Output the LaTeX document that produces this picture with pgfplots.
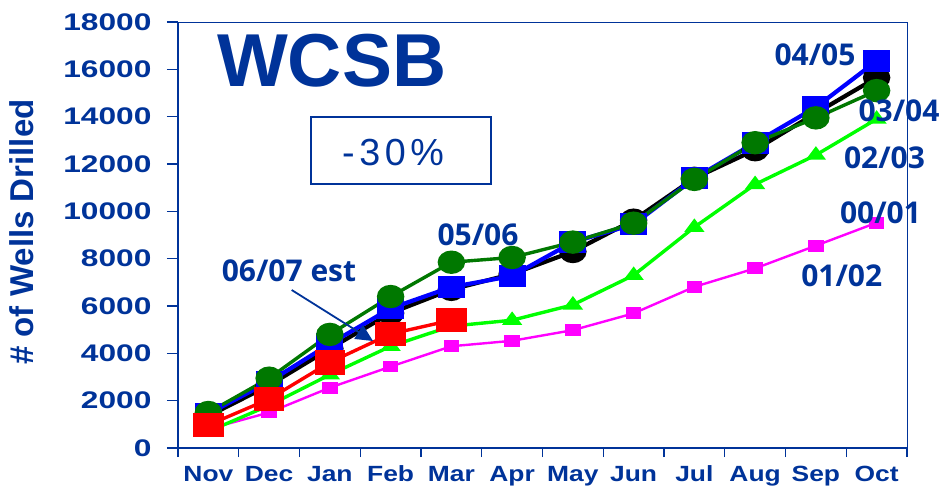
\documentclass[border=0pt]{standalone}
\usepackage{pgfplots}
\pgfplotsset{compat=1.18}
\usepackage{fontspec}
\setmainfont{Liberation Sans}
\newfontfamily\osans{Open Sans}
\usetikzlibrary{arrows.meta}
\definecolor{dblue}{RGB}{0,51,153}
\definecolor{dgreen}{RGB}{0,120,0}
\definecolor{lgreen}{RGB}{0,255,0}
\definecolor{mag}{RGB}{255,0,255}
\definecolor{pblue}{RGB}{0,0,255}
\definecolor{pred}{RGB}{255,0,0}
\begin{document}
\begin{tikzpicture}
\path[use as bounding box] (0,0) rectangle (941pt,-488pt);
\begin{axis}[
  at={(178pt,-448pt)}, anchor=south west,
  scale only axis, width=729pt, height=426pt,
  xmin=-0.5, xmax=11.5, ymin=0, ymax=18000,
  axis x line*=bottom, axis y line*=left,
  axis line style={dblue, line width=1.6pt},
  tick align=outside,
  xtick={0,...,11},
  minor xtick={-0.5,0.5,...,11.5},
  every major x tick/.style={draw=none},
  minor tick length=9pt,
  major tick length=11pt,
  every tick/.style={dblue, line width=1.2pt},
  ytick={0,2000,...,18000},
  scaled y ticks=false,
  /pgf/number format/assume math mode=true,
  /pgf/number format/1000 sep={},
  yticklabel={\scalebox{1.32}[1]{\pgfmathprintnumber[fixed]{\tick}}},
  yticklabel style={font=\fontsize{24}{24}\selectfont\bfseries, text=dblue, xshift=-12pt},
  xticklabel={\scalebox{1.2}[1]{\pgfmathparse{int(\tick)}\ifcase\pgfmathresult Nov\or Dec\or Jan\or Feb\or Mar\or Apr\or May\or Jun\or Jul\or Aug\or Sep\or Oct\fi}},
  xticklabel style={font=\fontsize{22}{22}\selectfont\bfseries, text=dblue, anchor=north, text height=16pt, text depth=0pt, inner sep=0pt, yshift=-6pt},
  clip=false,
]
\addplot[mag, line width=2.4pt, mark=square*, mark size=4.7pt, mark options={xscale=1.4, solid}]
  coordinates {(0,800)(1,1500)(2,2550)(3,3440)(4,4300)(5,4530)(6,4980)(7,5690)(8,6810)(9,7590)(10,8550)(11,9520)};
\addplot[lgreen, line width=3.4pt, mark=triangle*, mark size=6pt, mark options={xscale=1.3, solid}]
  coordinates {(0,700)(1,1800)(2,3100)(3,4300)(4,5150)(5,5400)(6,6050)(7,7300)(8,9330)(9,11140)(10,12380)(11,13900)};
\addplot[black, line width=4.2pt, mark=*, mark size=9.5pt, mark options={xscale=1.22, solid}]
  coordinates {(0,1350)(1,2650)(2,4200)(3,5700)(4,6700)(5,7350)(6,8300)(7,9630)(8,11400)(9,12600)(10,14150)(11,15650)};
\addplot[pblue, line width=4.2pt, mark=square*, mark size=9pt, mark options={xscale=1.26, solid}]
  coordinates {(0,1450)(1,2800)(2,4400)(3,5900)(4,6800)(5,7270)(6,8700)(7,9450)(8,11400)(9,12900)(10,14400)(11,16350)};
\addplot[dgreen, line width=3.4pt, mark=*, mark size=10pt, mark options={xscale=1.2, solid}]
  coordinates {(0,1500)(1,2950)(2,4800)(3,6400)(4,7850)(5,8050)(6,8700)(7,9500)(8,11350)(9,12900)(10,13950)(11,15100)};
\addplot[pred, line width=3.4pt, mark=square*, mark size=10.5pt, mark options={xscale=1.28, solid}]
  coordinates {(0,970)(1,2070)(2,3620)(3,4820)(4,5400)};
\end{axis}
% top and right frame
\draw[dblue, line width=1pt] (178pt,-22pt) -- (907pt,-22pt) -- (907pt,-448pt);
% y label
\node[rotate=90, text=dblue, font=\fontsize{33}{33}\selectfont\bfseries, inner sep=0pt] at (22pt,-232pt) {\# of Wells Drilled};
% title
\node[text=dblue, font=\fontsize{75}{75}\selectfont\bfseries, anchor=base, inner sep=0pt] at (331.7pt,-86pt) {WCSB};
% box
\draw[dblue, line width=2pt] (311pt,-117pt) rectangle (491pt,-184pt);
\node[text=dblue, font=\fontsize{37.7}{37.7}\selectfont\addfontfeature{LetterSpace=12}, anchor=base, inner sep=0pt] at (393pt,-165pt) {-30\%};
% series labels
\tikzset{lab/.style={text=dblue, font=\fontsize{30}{30}\selectfont\osans\bfseries, anchor=base, inner sep=0pt}}
\node[lab] at (478pt,-245pt) {05/06};
\node[lab] at (289pt,-281.7pt) {06/07 est};
\node[lab] at (815pt,-65.7pt) {04/05};
\node[lab] at (899pt,-121.4pt) {03/04};
\node[lab] at (884.5pt,-168.6pt) {02/03};
\node[lab] at (880.5pt,-223.2pt) {00/01};
\node[lab] at (841.7pt,-286.7pt) {01/02};
\draw[dblue, line width=1.8pt, -{Triangle[length=17pt,width=16pt]}] (291.7pt,-290pt) -- (373pt,-341pt);
\end{tikzpicture}
\end{document}
